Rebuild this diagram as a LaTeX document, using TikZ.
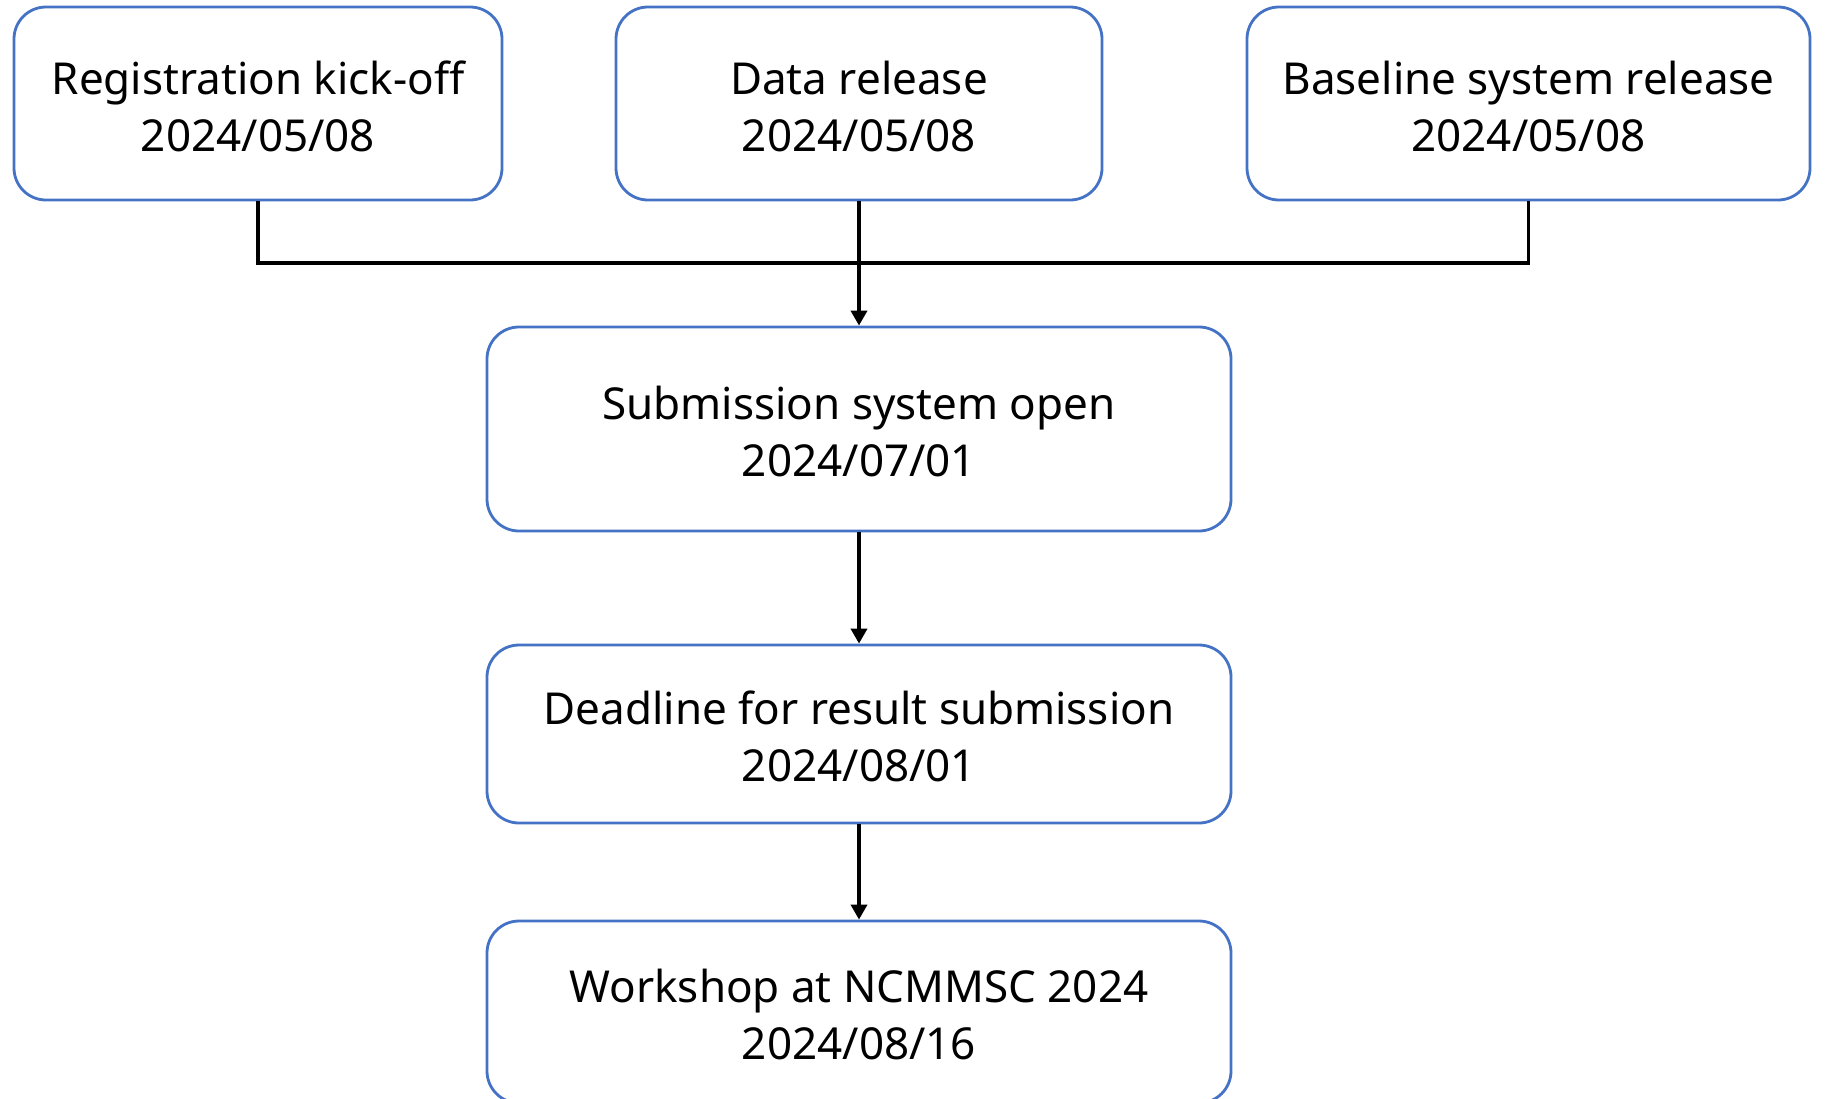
\documentclass[tikz,border=0pt]{standalone}
\usepackage{fontspec}
\setmainfont{Noto Sans}
\usetikzlibrary{arrows.meta}
\definecolor{boxblue}{HTML}{4472C4}
\newcommand\stagetext[2]{\raisebox{-8pt}[\height][\depth]{\begin{tabular}{@{}c@{}}#1\\#2\end{tabular}}}
\tikzset{
  stage/.style={draw=boxblue, line width=2.8pt, rounded corners=32pt, fill=white,
    align=center, font=\fontsize{44}{57}\selectfont, inner sep=0pt},
  link/.style={line width=3.6pt, black},
  arrowlink/.style={link, -{Triangle[width=16pt,length=15pt]}}
}
\begin{document}
\begin{tikzpicture}[x=1pt,y=-1pt]
\useasboundingbox (0,0) rectangle (1825,1098);
\node[stage, minimum width=488pt, minimum height=193pt] (b1) at (258,103.5) {\stagetext{Registration kick-off}{2024/05/08}};
\node[stage, minimum width=486pt, minimum height=193pt] (b2) at (859,103.5) {\stagetext{Data release}{2024/05/08}};
\node[stage, minimum width=563pt, minimum height=193pt] (b3) at (1528.5,103.5) {\stagetext{Baseline system release}{2024/05/08}};
\node[stage, minimum width=744pt, minimum height=204pt] (b4) at (859,429) {\stagetext{Submission system open}{2024/07/01}};
\node[stage, minimum width=744pt, minimum height=178pt] (b5) at (859,734) {\stagetext{Deadline for result submission}{2024/08/01}};
\node[stage, minimum width=744pt, minimum height=182pt] (b6) at (859,1012) {\stagetext{Workshop at NCMMSC 2024}{2024/08/16}};
\coordinate (join) at (859,263);
\draw[link] (b1.south) |- (join) -| (b3.south);
\draw[arrowlink] (b2.south) -- (b4.north);
\draw[arrowlink] (b4.south) -- (b5.north);
\draw[arrowlink] (b5.south) -- (b6.north);
\end{tikzpicture}
\end{document}
